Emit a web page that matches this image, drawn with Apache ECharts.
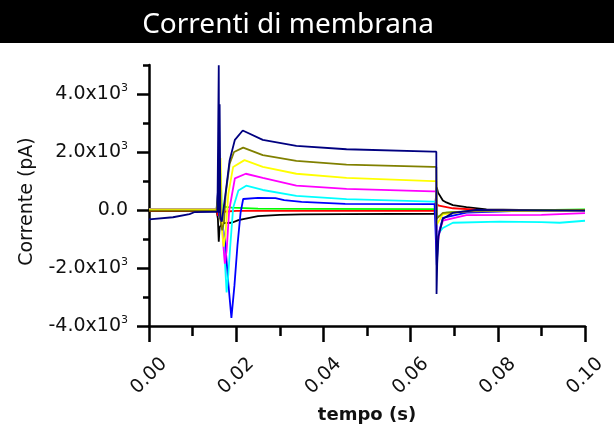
<!DOCTYPE html>
<html>
<head>
<meta charset="utf-8">
<script src="https://cdn.jsdelivr.net/npm/echarts@6/dist/echarts.min.js"></script>
<style>
  html, body { margin: 0; padding: 0; background: #fff; }
  #main { width: 614px; height: 424px; }
</style>
</head>
<body>
<div id="main"></div>
<script>
// tracce di corrente [tempo (s), corrente (pA)]
const nero = [[0,-40],[0.008,-40],[0.0155,-40],[0.0158,-300],[0.0160,-1090],[0.0162,-600],[0.0168,-450],[0.019,-440],[0.0205,-350],[0.025,-210],[0.030,-170],[0.035,-150],[0.045,-140],[0.0655,-130],[0.0659,-130],[0.0660,780],[0.0663,600],[0.0674,330],[0.0682,260],[0.0697,170],[0.0728,100],[0.0774,20],[0.085,0],[0.1,0]];
const rosso = [[0,-20],[0.0155,-20],[0.0158,-200],[0.0162,-100],[0.017,-60],[0.02,-30],[0.04,-20],[0.0655,-25],[0.0659,-25],[0.0660,200],[0.0665,150],[0.0697,60],[0.075,10],[0.1,0]];
const verde = [[0,30],[0.0155,30],[0.0158,300],[0.0161,100],[0.0165,250],[0.017,120],[0.019,80],[0.025,50],[0.04,40],[0.0655,30],[0.0659,30],[0.0660,-270],[0.0667,-200],[0.0682,-90],[0.075,-40],[0.1,20]];
const blu = [[0,30],[0.0155,30],[0.0158,600],[0.0161,-200],[0.0165,-300],[0.0174,-970],[0.0181,-2370],[0.0189,-3720],[0.0196,-2600],[0.0203,-1200],[0.0210,-100],[0.0216,380],[0.022,420],[0.025,420],[0.029,410],[0.031,340],[0.035,280],[0.045,210],[0.0655,200],[0.0659,200],[0.0660,-1900],[0.0663,-900],[0.0674,-270],[0.0728,-90],[0.085,-30],[0.1,-30]];
const ciano = [[0,20],[0.0155,20],[0.0160,300],[0.0164,1260],[0.0167,200],[0.0172,-1200],[0.0178,-2840],[0.0182,-2200],[0.0186,-1320],[0.0193,80],[0.0205,670],[0.0223,840],[0.0261,690],[0.0338,490],[0.0453,375],[0.0651,290],[0.0659,290],[0.0660,-970],[0.0667,-750],[0.0674,-620],[0.0697,-440],[0.0804,-400],[0.09,-420],[0.0942,-440],[0.1,-370]];
const magenta = [[0,20],[0.0155,20],[0.0162,200],[0.0167,-200],[0.0171,-1300],[0.0174,-1850],[0.0178,-1400],[0.0184,0],[0.0197,1090],[0.0222,1250],[0.0261,1110],[0.0338,840],[0.0453,725],[0.0651,640],[0.0659,640],[0.0660,-1320],[0.0667,-700],[0.0674,-370],[0.0728,-180],[0.09,-170],[0.1,-110]];
const giallo = [[0,20],[0.0155,20],[0.0160,200],[0.0164,1790],[0.0166,600],[0.0168,-800],[0.0171,-1260],[0.0175,-900],[0.0182,560],[0.0193,1485],[0.0219,1720],[0.0261,1485],[0.0338,1250],[0.0453,1110],[0.0651,995],[0.0659,995],[0.0660,-500],[0.0674,-150],[0.0728,-50],[0.1,-20]];
const oliva = [[0,-20],[0.0155,-20],[0.0160,900],[0.0163,-300],[0.0168,-700],[0.0172,-400],[0.0176,560],[0.0185,1600],[0.0195,2000],[0.0216,2150],[0.0261,1895],[0.0338,1695],[0.0453,1568],[0.0651,1485],[0.0659,1485],[0.0660,-300],[0.0674,-100],[0.075,-20],[0.1,0]];
const navy = [[0,-320],[0.0055,-250],[0.0093,-140],[0.0105,-70],[0.0157,-60],[0.0160,4990],[0.0161,-100],[0.0162,3650],[0.0164,-300],[0.0167,-400],[0.0175,500],[0.0185,1720],[0.0197,2420],[0.0215,2740],[0.0261,2420],[0.0338,2210],[0.0453,2095],[0.0651,2010],[0.0659,2010],[0.06595,-2900],[0.0661,-1850],[0.0664,-900],[0.0674,-300],[0.0697,-100],[0.075,0],[0.1,-20]];

const tracce = [nero, rosso, verde, blu, ciano, magenta, giallo, oliva, navy];
const colori = ['#000000','#ff0000','#00ff00','#0000ff','#00ffff','#ff00ff','#ffff00','#808000','#000080'];

const myChart = echarts.init(document.getElementById('main'));

const labelFont = 'DejaVu Sans';
const yLabel = function (v) {
  if (v === 0) return '{b|0.0}';
  return '{b|' + (v / 1000).toFixed(1) + 'x10}{s|3}';
};

myChart.setOption({
  animation: false,
  backgroundColor: '#fff',
  graphic: [
    { type: 'rect', shape: { x: 0, y: 0, width: 614, height: 43 }, style: { fill: '#000' } },
    { type: 'text', x: 288, y: 25.5, style: { text: 'Correnti di membrana', fill: '#fff', font: '28px "Noto Sans"', textAlign: 'center', textVerticalAlign: 'middle' } }
  ],
  grid: [
    { left: 149, right: 29, top: 65, bottom: 98, outerBoundsMode: 'none' },
    { left: 149, right: 29, top: 94, bottom: 98, outerBoundsMode: 'none' }
  ],
  xAxis: [{
    type: 'value', gridIndex: 0, min: 0, max: 0.1, interval: 0.02,
    name: 'tempo (s)', nameLocation: 'middle', nameGap: 80,
    nameTextStyle: { fontFamily: labelFont, fontSize: 18, fontWeight: 'bold', color: '#111' },
    axisLine: { onZero: false, lineStyle: { color: '#000', width: 2.5 } },
    axisTick: { length: 16, lineStyle: { color: '#000', width: 2.5 } },
    minorTick: { show: true, splitNumber: 2, length: 10, lineStyle: { color: '#000', width: 2.5 } },
    splitLine: { show: false },
    axisLabel: { rotate: 45, align: 'center', verticalAlign: 'middle', margin: 50,
      fontFamily: labelFont, fontSize: 19, color: '#111',
      formatter: function (v) { return v.toFixed(2); } }
  }, {
    type: 'value', gridIndex: 1, min: 0, max: 0.1, show: false
  }],
  yAxis: [{
    type: 'value', gridIndex: 0, min: -4000, max: 5000, interval: 1000,
    name: 'Corrente (pA)', nameLocation: 'middle', nameGap: 112,
    nameTextStyle: { fontFamily: labelFont, fontSize: 19, color: '#111', padding: [0, 12, 0, 0] },
    axisLine: { show: true, onZero: false, lineStyle: { color: '#000', width: 2.5 } },
    axisTick: { length: 6, lineStyle: { color: '#000', width: 2.5 } },
    axisLabel: { show: false },
    splitLine: { show: false }
  }, {
    type: 'value', gridIndex: 1, min: -4000, max: 4000, interval: 2000,
    axisLine: { show: false, onZero: false },
    axisTick: { show: true, length: 12, lineStyle: { color: '#000', width: 2.5 } },
    splitLine: { show: false },
    axisLabel: {
      margin: 21, color: '#111', formatter: yLabel,
      rich: {
        b: { fontFamily: labelFont, fontSize: 19, color: '#111', lineHeight: 22 },
        s: { fontFamily: labelFont, fontSize: 11, color: '#111', verticalAlign: 'top', lineHeight: 11 }
      }
    }
  }],
  series: tracce.map(function (d, i) {
    return {
      type: 'line', xAxisIndex: 0, yAxisIndex: 0, data: d,
      showSymbol: false, symbol: 'none',
      lineStyle: { color: colori[i], width: 1.8 },
      itemStyle: { color: colori[i] }
    };
  })
});
</script>
</body>
</html>
